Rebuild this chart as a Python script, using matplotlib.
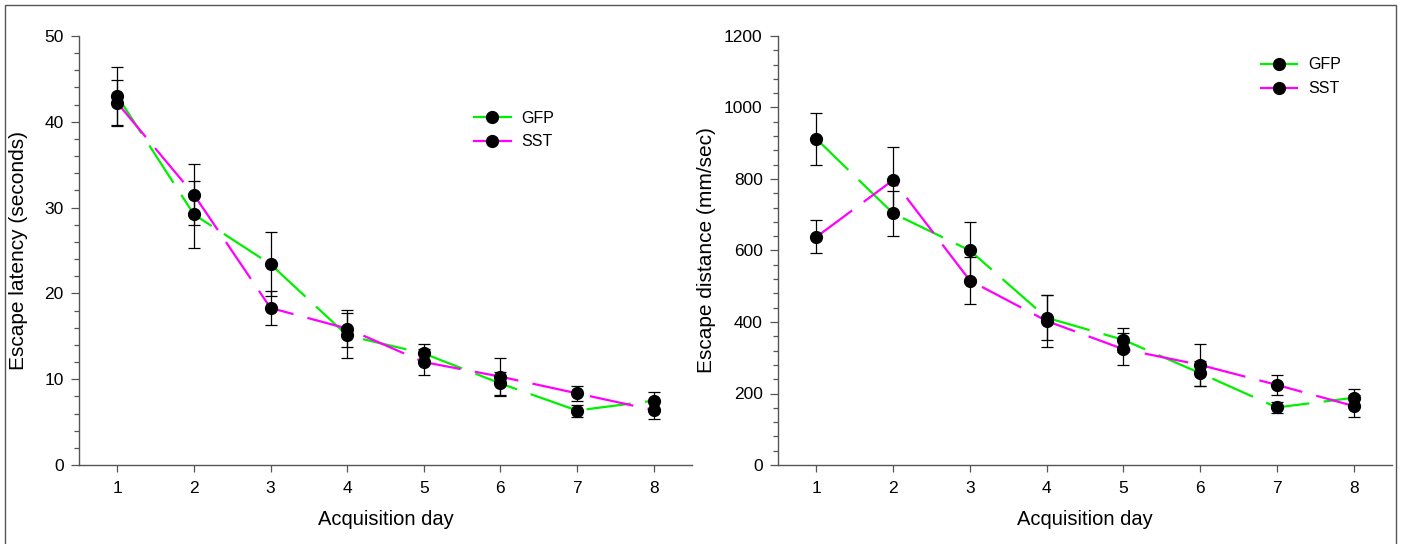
import matplotlib
matplotlib.use("Agg")
import matplotlib.pyplot as plt
from matplotlib.patches import Rectangle
from matplotlib.ticker import MultipleLocator

plt.rcParams['font.family'] = ['Liberation Sans', 'DejaVu Sans']

days = [1, 2, 3, 4, 5, 6, 7, 8]

# Left panel: escape latency (seconds)
lat_gfp = [43.0, 29.2, 23.4, 15.1, 13.0, 9.5, 6.35, 7.5]
lat_gfp_err = [3.4, 3.9, 3.7, 2.6, 1.1, 1.3, 0.7, 1.05]
lat_sst = [42.2, 31.5, 18.3, 15.9, 12.0, 10.3, 8.35, 6.4]
lat_sst_err = [2.7, 3.55, 2.0, 2.2, 1.5, 2.2, 0.9, 1.05]

# Right panel: escape distance (mm/sec)
dist_gfp = [912, 704, 600, 412, 350, 257, 161, 188]
dist_gfp_err = [72, 63, 81, 63, 34, 35, 15, 24]
dist_sst = [638, 797, 516, 403, 324, 280, 224, 165]
dist_sst_err = [46, 93, 66, 73, 44, 59, 27, 30]

series_labels = ["GFP", "SST"]
GREEN = "#00f000"
MAGENTA = "#ff00ff"
SPINE = "#555555"

W, H = 1401, 544
fig = plt.figure(figsize=(W / 100, H / 100), dpi=100)

def px_axes(x0, x1, ytop, ybot):
    return fig.add_axes([x0 / W, 1 - ybot / H, (x1 - x0) / W, (ybot - ytop) / H])

ax1 = px_axes(79, 692, 36, 465)
ax2 = px_axes(778, 1392, 36, 465)

def draw(ax, gfp, gfp_err, sst, sst_err, ylim, major, minor, ylabel, leg_anchor, lab_xy):
    dash = (20, 6.5)
    for vals, errs, col, lab in ((gfp, gfp_err, GREEN, series_labels[0]),
                                 (sst, sst_err, MAGENTA, series_labels[1])):
        ax.plot(days, vals, color=col, lw=1.6, dashes=dash, zorder=2)
        ax.errorbar(days, vals, yerr=errs, fmt='none', ecolor='black',
                    elinewidth=0.9, capsize=4, capthick=0.9, zorder=3)
        ax.plot(days, vals, linestyle='none', marker='o', ms=8.5,
                mfc='black', mec='black', zorder=4)
    # legend handles
    h1, = ax.plot([], [], color=GREEN, lw=1.6, marker='o', ms=8.5, mfc='black', mec='black')
    h2, = ax.plot([], [], color=MAGENTA, lw=1.6, marker='o', ms=8.5, mfc='black', mec='black')
    ax.legend([h1, h2], series_labels, loc='upper left', bbox_to_anchor=leg_anchor,
              frameon=False, fontsize=11.5, numpoints=1, handlelength=2.3,
              handletextpad=0.7, labelspacing=0.55, borderpad=0, borderaxespad=0)

    ax.set_xlim(0.5, 8.5)
    ax.set_ylim(*ylim)
    ax.set_xticks(days)
    ax.yaxis.set_major_locator(MultipleLocator(major))
    ax.yaxis.set_minor_locator(MultipleLocator(minor))
    for s in ('top', 'right'):
        ax.spines[s].set_visible(False)
    for s in ('left', 'bottom'):
        ax.spines[s].set_color(SPINE)
        ax.spines[s].set_linewidth(1.0)
    ax.tick_params(axis='y', which='major', direction='out', length=6, width=0.9,
                   color=SPINE, labelsize=12.5, pad=5)
    ax.tick_params(axis='y', which='minor', direction='out', length=3.6, width=0.9,
                   color=SPINE)
    ax.tick_params(axis='x', which='major', direction='out', length=4.8, width=0.9,
                   color=SPINE, labelsize=12.5, pad=6.5)
    ax.set_xlabel("Acquisition day", fontsize=14.5, labelpad=10)
    ax.set_ylabel(ylabel, fontsize=15)
    ax.yaxis.set_label_coords(*lab_xy)

draw(ax1, lat_gfp, lat_gfp_err, lat_sst, lat_sst_err, (0, 50), 10, 2,
     "Escape latency (seconds)", (0.644, 0.826), (-0.084, 0.5))
draw(ax2, dist_gfp, dist_gfp_err, dist_sst, dist_sst_err, (0, 1200), 200, 40,
     "Escape distance (mm/sec)", (0.786, 0.950), (-0.101, 0.5))

fig.add_artist(Rectangle((5 / W, -0.05), (1396 - 5) / W, 1.05 - 5 / H,
                         transform=fig.transFigure, fill=False,
                         edgecolor='#555555', lw=1.0, clip_on=False))

fig.savefig("out.png", dpi=100)
